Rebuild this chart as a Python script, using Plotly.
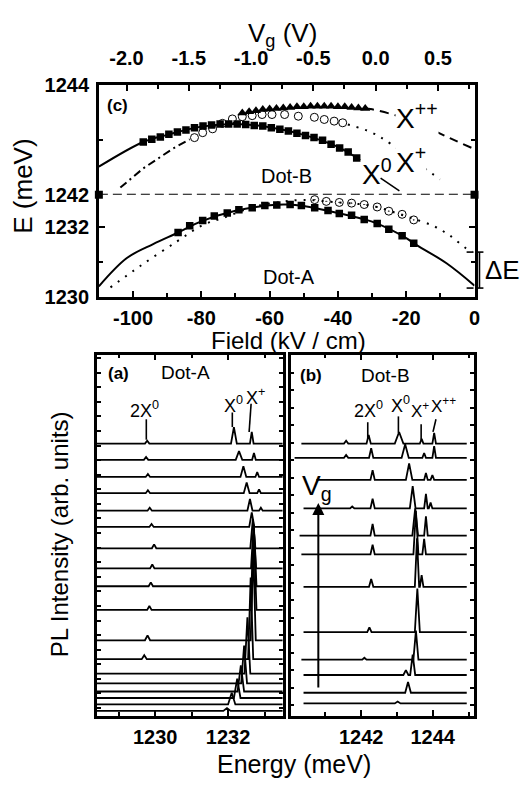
import plotly.graph_objects as go

W, H = 526, 790
FONT = "Liberation Sans, Arial, sans-serif"

# ---------------- panel (c) data ----------------
field_ticks = [-100, -80, -60, -40, -20, 0]
field_minor = [-110, -90, -70, -50, -30, -10]
vg_ticks = [-2.0, -1.5, -1.0, -0.5, 0.0, 0.5]
vg_labels = ["-2.0", "-1.5", "-1.0", "-0.5", "0.0", "0.5"]
vg_minor = [-1.75, -1.25, -0.75, -0.25, 0.25, 0.75]

# Dot-B, X0 (filled squares) and its fit (solid)
b_x0_field = [-97, -94.5, -92, -89.5, -87, -84.5, -82, -79.5, -77, -74.5, -72, -69.5, -67,
              -64.5, -62, -59.5, -57, -54.5, -52, -49.5, -47, -44.5, -42, -39.5, -37, -34.5]
b_x0_E = [1242.96, 1243.01, 1243.05, 1243.10, 1243.14, 1243.18, 1243.22, 1243.25, 1243.27,
          1243.29, 1243.29, 1243.29, 1243.28, 1243.26, 1243.25, 1243.22, 1243.19, 1243.16,
          1243.12, 1243.08, 1243.04, 1242.99, 1242.92, 1242.85, 1242.78, 1242.67]
b_x0_fit_field = [-110, -97, -90, -80, -70, -60, -50, -40, -33.5]
b_x0_fit_E = [1242.51, 1242.96, 1243.09, 1243.24, 1243.29, 1243.23, 1243.09, 1242.87, 1242.63]

# Dot-B, X+ (open circles), dash-dot extrapolation left, dotted right
b_xp_field = [-82.0, -79.6, -76.7, -73.8, -70.9, -68.0, -65.1, -62.2, -59.3, -55.6, -51.6,
              -46.9, -44.0, -41.1, -38.6]
b_xp_E = [1243.04, 1243.13, 1243.20, 1243.30, 1243.38, 1243.42, 1243.44, 1243.46, 1243.46,
          1243.46, 1243.43, 1243.41, 1243.37, 1243.34, 1243.31]
b_xp_left_field = [-103.7, -97.0, -88.3, -83.4]
b_xp_left_E = [1242.13, 1242.48, 1242.84, 1243.01]
b_xp_right_field = [-37.1, -30, -24.6, -15.9, -10.1]
b_xp_right_E = [1243.28, 1243.13, 1242.93, 1242.54, 1242.28]

# Dot-B, X++ (filled triangles) and dashed continuation
b_xpp_field = [-68, -66, -64, -62, -60, -58, -56, -54, -52, -50, -48, -46, -44, -42, -40,
               -38, -36, -34, -32]
b_xpp_E = [1243.49, 1243.51, 1243.53, 1243.55, 1243.56, 1243.57, 1243.58, 1243.59, 1243.60,
           1243.60, 1243.61, 1243.61, 1243.61, 1243.61, 1243.60, 1243.60, 1243.59, 1243.58,
           1243.57]
b_xpp_fit_field = [-32, -30.4, -22.3, -15.1, -7.2, 0]
b_xpp_fit_E = [1243.57, 1243.56, 1243.43, 1243.26, 1243.03, 1242.83]

# Dot-A, X0 (filled squares) and fit (solid)
a_x0_field = [-86.8, -83.4, -79.6, -76.2, -72.4, -69.0, -65.1, -61.4, -57.9, -54.0, -50.7,
              -46.8, -42.9, -39.6, -36.0, -32.3, -28.5, -25.1, -21.2, -17.8]
a_x0_E = [1231.84, 1232.03, 1232.18, 1232.31, 1232.40, 1232.49, 1232.55, 1232.61, 1232.63,
          1232.64, 1232.61, 1232.55, 1232.47, 1232.38, 1232.33, 1232.21, 1232.10, 1231.93,
          1231.75, 1231.53]
a_x0_fit_field = [-110, -101.8, -94.1, -86.8, -80, -70, -60, -55, -50, -40, -30, -20, -17.8,
                  -8.2, 0]
a_x0_fit_E = [1230.30, 1231.11, 1231.51, 1231.84, 1232.16, 1232.46, 1232.62, 1232.64, 1232.60,
              1232.40, 1232.15, 1231.68, 1231.53, 1230.96, 1230.32]

# Dot-A, X+ (circles with dot) and dotted fit
a_xp_field = [-46.8, -43.4, -39.6, -36.0, -32.3, -28.5, -25.1, -21.2, -17.8]
a_xp_E = [1232.78, 1232.73, 1232.70, 1232.68, 1232.64, 1232.57, 1232.45, 1232.36, 1232.20]
a_xp_fit_field = [-106.6, -97.9, -87.2, -79.6, -72.9, -65.1, -57.9, -50, -40, -30, -20, -12.1,
                  -7.2, -2.4, -0.6]
a_xp_fit_E = [1230.27, 1230.88, 1231.58, 1232.05, 1232.28, 1232.56, 1232.70, 1232.77, 1232.70,
              1232.60, 1232.30, 1232.03, 1231.75, 1231.38, 1231.29]

break_field = [-110, 0]
break_E = [1242, 1242]

# ---------------- panel (a) spectra: Dot-A ----------------
a_ticks = [1230, 1232]
a_minor = [1229, 1231, 1233]
a_offsets = [280, 263.3, 245.7, 229, 211, 194.3, 172.3, 151.7, 133.3, 109, 77.7, 58.3, 43.3,
             33.3, 25, 18.3, 11.7, 5]
# peaks: (energy meV, height, half width)
a_peaks = [
    [(1229.78, 3, 0.06), (1232.16, 17, 0.08), (1232.65, 12, 0.05)],
    [(1229.75, 3, 0.06), (1232.30, 9, 0.09), (1232.71, 7, 0.05)],
    [(1229.80, 3, 0.06), (1232.42, 11, 0.08), (1232.80, 5, 0.05)],
    [(1229.80, 3, 0.06), (1232.51, 11, 0.08), (1232.85, 4, 0.05)],
    [(1229.85, 3, 0.06), (1232.60, 12, 0.07), (1232.90, 3, 0.05)],
    [(1229.90, 3, 0.06), (1232.65, 15, 0.07)],
    [(1229.97, 4, 0.06), (1232.68, 30, 0.07)],
    [(1229.92, 4, 0.06), (1232.70, 45, 0.07)],
    [(1229.88, 4, 0.06), (1232.71, 60, 0.07)],
    [(1229.84, 4, 0.06), (1232.71, 75, 0.07)],
    [(1229.79, 5, 0.07), (1232.69, 95, 0.07)],
    [(1229.70, 4, 0.07), (1232.62, 84, 0.07)],
    [(1232.53, 58, 0.08)],
    [(1232.44, 39, 0.08)],
    [(1232.35, 27, 0.09)],
    [(1232.25, 20, 0.09)],
    [(1232.10, 12, 0.10)],
    [(1231.97, 3, 0.10)],
]
a_start, a_end = 1228.4, 1233.5

# ---------------- panel (b) spectra: Dot-B ----------------
b_ticks = [1242, 1244]
b_minor = [1241, 1243, 1245]
b_offsets = [280, 265.3, 242.7, 213.3, 185.3, 166, 132.7, 86, 57.7, 42, 23.7, 12.7]
b_starts = [1240.33, 1240.14, 1240.75, 1240.39, 1240.28, 1240.33, 1240.39, 1240.39, 1240.33,
            1240.39, 1240.39, 1240.39]
b_peaks = [
    [(1241.58, 3, 0.06), (1242.21, 9, 0.06), (1243.06, 12, 0.12), (1243.69, 5, 0.05), (1244.04, 11, 0.05)],
    [(1241.58, 3, 0.06), (1242.28, 10, 0.06), (1243.23, 14, 0.10), (1243.76, 5, 0.05), (1244.04, 12, 0.05)],
    [(1242.32, 10, 0.06), (1243.34, 17, 0.09), (1243.81, 7, 0.05), (1243.99, 5, 0.05)],
    [(1241.75, 2, 0.06), (1242.32, 10, 0.06), (1243.44, 23, 0.08), (1243.81, 15, 0.05), (1243.94, 6, 0.05)],
    [(1242.32, 12, 0.06), (1243.51, 28, 0.08), (1243.81, 20, 0.05)],
    [(1242.32, 10, 0.06), (1243.53, 45, 0.07), (1243.76, 16, 0.05)],
    [(1242.28, 8, 0.06), (1243.56, 50, 0.06), (1243.69, 12, 0.05)],
    [(1242.23, 5, 0.06), (1243.57, 45, 0.07)],
    [(1242.09, 2, 0.06), (1243.53, 30, 0.07)],
    [(1243.25, 5, 0.07), (1243.44, 21, 0.07)],
    [(1243.31, 11, 0.08)],
    [(1243.02, 2, 0.08)],
]
b_end = 1244.95


# ---------------- helpers ----------------
def PX(x):
    return x / W


def PY(y):
    return 1 - y / H


def spectrum(e0, e1, off, peaks):
    xs, ys = [e0], [off]
    for e, h, w in sorted(peaks):
        xs += [e - w, e, e + w]
        ys += [off, off + h, off]
    xs.append(e1)
    ys.append(off)
    return xs, ys


fig = go.Figure()
BLK = "black"

# ---- panel (c), Dot-B (upper, y2) ----
fig.add_trace(go.Scatter(x=b_x0_fit_field, y=b_x0_fit_E, mode="lines", xaxis="x", yaxis="y2",
                         line=dict(color=BLK, width=2, shape="spline")))
fig.add_trace(go.Scatter(x=b_xp_left_field, y=b_xp_left_E, mode="lines", xaxis="x", yaxis="y2",
                         line=dict(color=BLK, width=2, dash="8px,4px,2px,4px")))
fig.add_trace(go.Scatter(x=b_xp_right_field, y=b_xp_right_E, mode="lines", xaxis="x", yaxis="y2",
                         line=dict(color=BLK, width=2, dash="2px,7px", shape="spline")))
fig.add_trace(go.Scatter(x=b_xpp_fit_field, y=b_xpp_fit_E, mode="lines", xaxis="x", yaxis="y2",
                         line=dict(color=BLK, width=2, dash="9px,6px", shape="spline")))
fig.add_trace(go.Scatter(x=b_x0_field, y=b_x0_E, mode="markers", xaxis="x", yaxis="y2",
                         marker=dict(symbol="square", size=7.5, color=BLK)))
fig.add_trace(go.Scatter(x=b_xp_field, y=b_xp_E, mode="markers", xaxis="x", yaxis="y2",
                         marker=dict(symbol="circle-open", size=8, color=BLK, line=dict(width=1))))
fig.add_trace(go.Scatter(x=b_xpp_field, y=b_xpp_E, mode="markers", xaxis="x", yaxis="y2",
                         marker=dict(symbol="triangle-up", size=9, color=BLK)))
fig.add_trace(go.Scatter(x=break_field, y=break_E, mode="markers", xaxis="x", yaxis="y2",
                         cliponaxis=False, marker=dict(symbol="square", size=8, color=BLK)))

# ---- panel (c), Dot-A (lower, y) ----
fig.add_trace(go.Scatter(x=a_x0_fit_field, y=a_x0_fit_E, mode="lines", xaxis="x", yaxis="y",
                         line=dict(color=BLK, width=2, shape="spline")))
fig.add_trace(go.Scatter(x=a_xp_fit_field, y=a_xp_fit_E, mode="lines", xaxis="x", yaxis="y",
                         line=dict(color=BLK, width=2, dash="2px,7px", shape="spline")))
fig.add_trace(go.Scatter(x=a_x0_field, y=a_x0_E, mode="markers", xaxis="x", yaxis="y",
                         marker=dict(symbol="square", size=7.5, color=BLK)))
fig.add_trace(go.Scatter(x=a_xp_field, y=a_xp_E, mode="markers", xaxis="x", yaxis="y",
                         marker=dict(symbol="circle-open-dot", size=8, color=BLK, line=dict(width=1))))

# dummy trace for the top Vg axis
fig.add_trace(go.Scatter(x=[None], y=[None], xaxis="x3", yaxis="y2", showlegend=False))

# ---- spectra ----
for off, pk in zip(a_offsets, a_peaks):
    xs, ys = spectrum(a_start, a_end, off, pk)
    fig.add_trace(go.Scatter(x=xs, y=ys, mode="lines", xaxis="x4", yaxis="y4",
                             line=dict(color=BLK, width=1.8)))
for off, st, pk in zip(b_offsets, b_starts, b_peaks):
    xs, ys = spectrum(st, b_end, off, pk)
    fig.add_trace(go.Scatter(x=xs, y=ys, mode="lines", xaxis="x5", yaxis="y5",
                             line=dict(color=BLK, width=1.8)))

TICKFONT = dict(family=FONT, size=20, color=BLK, weight="bold")
common = dict(showgrid=False, zeroline=False, ticks="inside", ticklen=6, tickwidth=1.5,
              tickcolor=BLK, linecolor=BLK, linewidth=2.5, showline=True, tickfont=TICKFONT)
minor_c = dict(ticks="inside", ticklen=4, tickwidth=1.5, tickcolor=BLK)

cx = [PX(100), PX(480)]
fig.update_layout(
    width=W, height=H, margin=dict(l=0, r=0, t=0, b=0),
    paper_bgcolor="white", plot_bgcolor="white", showlegend=False,
    xaxis=dict(common, domain=cx, anchor="y", range=[-110, 0], tickmode="array",
               tickvals=field_ticks, ticktext=[str(v) for v in field_ticks],
               minor=dict(minor_c, tickvals=field_minor), ticklabelstandoff=1),
    xaxis3=dict(common, domain=cx, anchor="y2", overlaying="x", side="top",
                range=[-2.222, 0.794], tickmode="array", tickvals=vg_ticks, ticktext=vg_labels,
                minor=dict(minor_c, tickvals=vg_minor), ticklabelstandoff=9),
    yaxis=dict(common, domain=[PY(294), PY(189)], anchor="x", range=[1230, 1232.92],
               tickmode="array", tickvals=[1230, 1232], ticktext=["1230", "1232"],
               minor=dict(minor_c, tickvals=[1231]), mirror="ticks", ticklabelstandoff=3),
    yaxis2=dict(common, domain=[PY(189), PY(76)], anchor="x", range=[1242, 1244],
                tickmode="array", tickvals=[1242, 1244], ticktext=["1242", "1244"],
                minor=dict(minor_c, tickvals=[1243]), mirror="ticks", ticklabelstandoff=3),
    xaxis4=dict(common, domain=[PX(98), PX(286)], anchor="y4", range=[a_start, a_end],
                tickmode="array", tickvals=a_ticks, ticktext=[str(v) for v in a_ticks],
                minor=dict(minor_c, tickvals=a_minor), mirror="allticks", ticklabelstandoff=1),
    yaxis4=dict(common, domain=[PY(725), PY(353.5)], anchor="x4", range=[0, 371.5],
                showticklabels=False, tickmode="linear", tick0=8, dtick=15, ticklen=4,
                mirror="allticks"),
    xaxis5=dict(common, domain=[PX(294), PX(479)], anchor="y5", range=[1240.03, 1245.14],
                tickmode="array", tickvals=b_ticks, ticktext=[str(v) for v in b_ticks],
                minor=dict(minor_c, tickvals=b_minor), mirror="allticks", ticklabelstandoff=1),
    yaxis5=dict(common, domain=[PY(725), PY(353.5)], anchor="x5", range=[0, 371.5],
                showticklabels=False, tickmode="linear", tick0=11, dtick=18, ticklen=4,
                mirror="allticks"),
)

# ---- shapes ----
shapes = []
# dashed break line at 1242
shapes.append(dict(type="line", xref="x", yref="y2", x0=-110, x1=0, y0=1242, y1=1242,
                   line=dict(color=BLK, width=1.8, dash="9px,5px")))


def pline(x0, y0, x1, y1, w=1.6):
    shapes.append(dict(type="line", xref="paper", yref="paper", x0=PX(x0), y0=PY(y0),
                       x1=PX(x1), y1=PY(y1), line=dict(color=BLK, width=w)))


# X0 pointer (panel c)
pline(385, 172, 404, 185)
# Delta E bracket
pline(485, 248, 485, 285)
pline(481, 248, 489, 248)
pline(481, 285, 489, 285)
pline(472, 248, 479, 248)
pline(472, 285, 479, 285)
# label pointer lines (a)
pline(148, 420, 148, 441)
pline(235, 413, 235, 428)
pline(254, 404, 252, 433)
# label pointer lines (b)
pline(372, 423, 372, 440)
pline(403, 417, 403, 434)
pline(426, 425, 426, 441)
pline(441, 420, 438, 433)
fig.update_layout(shapes=shapes)

# ---- annotations ----
ann = []


def text(x, y, s, size, bold=False, angle=0, bg=None):
    d = dict(x=PX(x), y=PY(y), xref="paper", yref="paper", text=s, showarrow=False,
             xanchor="center", yanchor="middle", textangle=angle,
             font=dict(family=FONT, size=size, color=BLK, weight="bold" if bold else "normal"))
    if bg:
        d.update(bgcolor=bg, borderpad=0)
    ann.append(d)


text(286, 24, "V<sub>g</sub> (V)", 26)
text(23, 180, "E (meV)", 26, angle=-90)
text(292, 339, "Field (kV / cm)", 24)
text(297, 775, "Energy (meV)", 25)
text(60, 538, "PL Intensity (arb. units)", 24, angle=-90)

text(119, 97, "(c)", 17, bold=True)
text(290, 170, "Dot-B", 20)
text(292, 274, "Dot-A", 20)
text(422, 108, "X<sup>++</sup>", 28, bg="white")
text(416, 153, "X<sup>+</sup>", 28, bg="white")
text(381, 166, "X<sup>0</sup>", 28)
text(508, 266, "ΔE", 26)

text(120, 373, "(a)", 17, bold=True)
text(188, 372, "Dot-A", 19)
text(146, 410, "2X<sup>0</sup>", 18)
text(236, 405, "X<sup>0</sup>", 18)
text(258, 397, "X<sup>+</sup>", 18)

text(315, 375, "(b)", 17, bold=True)
text(390, 375, "Dot-B", 19)
text(373, 410, "2X<sup>0</sup>", 18)
text(405, 405, "X<sup>0</sup>", 18)
text(425, 410, "X<sup>+</sup>", 17)
text(449, 405, "X<sup>++</sup>", 17)
text(321, 490, "V<sub>g</sub>", 28)

# Vg arrow in (b)
ann.append(dict(x=PX(322), y=PY(506), xref="paper", yref="paper", ax=0, ay=186,
                axref="pixel", ayref="pixel", text="", showarrow=True, arrowhead=2,
                arrowsize=1.2, arrowwidth=2, arrowcolor=BLK))
fig.update_layout(annotations=ann)

fig.write_html("out.html")
